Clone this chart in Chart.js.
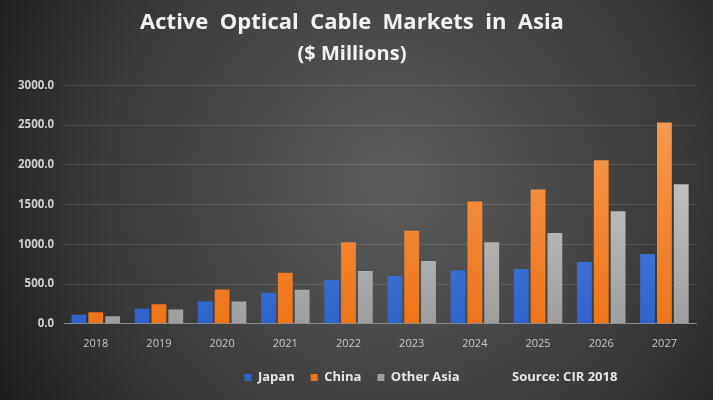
<!DOCTYPE html>
<html>
<head>
<meta charset="utf-8">
<script src="https://cdn.jsdelivr.net/npm/chart.js@4"></script>
<style>
  html, body { margin: 0; padding: 0; background: #222; }
  #wrap { width: 713px; height: 400px; position: relative; }
</style>
</head>
<body>
<div id="wrap"><canvas id="myChart"></canvas></div>
<script>
const years = ['2018', '2019', '2020', '2021', '2022', '2023', '2024', '2025', '2026', '2027'];
const japan = [115, 189, 281, 391, 550, 600, 672, 689, 777, 877];
const china = [146, 247, 432, 643, 1025, 1172, 1538, 1690, 2059, 2534];
const otherAsia = [96, 180, 281, 429, 663, 789, 1025, 1142, 1416, 1756];
const sourceNote = 'Source: CIR 2018';

// dark radial backdrop + source note beside the legend
const backdrop = {
    id: 'backdrop',
    beforeDraw(chart) {
        const c = chart.ctx;
        const w = chart.width, h = chart.height;
        const g = c.createRadialGradient(w * 0.55, h * 0.45, 20, w * 0.55, h * 0.45, w * 0.65);
        g.addColorStop(0, '#5a5a5a');
        g.addColorStop(0.6, '#3a3a3a');
        g.addColorStop(1, '#1b1b1b');
        c.save();
        c.fillStyle = g;
        c.fillRect(0, 0, w, h);
        c.restore();
    },
    afterDraw(chart) {
        const c = chart.ctx;
        const leg = chart.legend;
        const y = leg.legendHitBoxes.length ? leg.legendHitBoxes[0].top + leg.legendHitBoxes[0].height / 2 : 376;
        c.save();
        c.font = 'bold 13px "Open Sans"';
        c.fillStyle = '#e6e6e6';
        c.textBaseline = 'middle';
        c.fillText(sourceNote, 512, y);
        c.restore();
    }
};

function barFill(top, bottom) {
    return function (context) {
        const area = context.chart.chartArea;
        if (!area) return bottom;
        const g = context.chart.ctx.createLinearGradient(0, area.top, 0, area.bottom);
        g.addColorStop(0, top);
        g.addColorStop(1, bottom);
        return g;
    };
}

const ctx = document.getElementById('myChart').getContext('2d');
const myChart = new Chart(ctx, {
    type: 'bar',
    data: {
        labels: years,
        datasets: [{
            label: 'Japan',
            data: japan,
            backgroundColor: barFill('#5b8ff0', '#2f63c9'),
            categoryPercentage: 0.8,
            barPercentage: 0.88
        },
        {
            label: 'China',
            data: china,
            backgroundColor: barFill('#f9a05a', '#ee7418'),
            categoryPercentage: 0.8,
            barPercentage: 0.88
        },
        {
            label: 'Other Asia',
            data: otherAsia,
            backgroundColor: barFill('#d8d8d8', '#9e9e9e'),
            categoryPercentage: 0.8,
            barPercentage: 0.88
        }]
    },
    options: {
        responsive: true,
        maintainAspectRatio: false,
        animation: false,
        layout: { padding: { left: 8, right: 17, top: 4, bottom: 6 } },
        scales: {
            x: {
                grid: { display: false },
                border: { color: '#8a8a8a', width: 1 },
                ticks: { color: '#c8c8c8', font: { family: 'Open Sans', size: 11 }, padding: 5 }
            },
            y: {
                min: 0,
                max: 3000,
                ticks: {
                    stepSize: 500,
                    color: '#d0d0d0',
                    font: { family: 'Open Sans', size: 11.5, weight: 'bold' },
                    padding: 10,
                    callback: v => v.toFixed(1)
                },
                grid: { color: 'rgba(255,255,255,0.12)', drawTicks: false },
                border: { display: false }
            }
        },
        plugins: {
            title: {
                display: true,
                text: 'Active  Optical  Cable  Markets  in  Asia',
                color: '#f2f2f2',
                font: { family: 'Open Sans', size: 22, weight: 'bold' },
                padding: { top: 6, bottom: 6 }
            },
            subtitle: {
                display: true,
                text: '($ Millions)',
                color: '#f2f2f2',
                font: { family: 'Open Sans', size: 20, weight: 'bold' },
                padding: { bottom: 19 }
            },
            legend: {
                position: 'bottom',
                align: 'center',
                labels: {
                    color: '#e6e6e6',
                    font: { family: 'Open Sans', size: 13, weight: 'bold' },
                    boxWidth: 7,
                    boxHeight: 7,
                    padding: 16
                }
            },
            tooltip: { enabled: false }
        }
    },
    plugins: [backdrop]
});
</script>
</body>
</html>
